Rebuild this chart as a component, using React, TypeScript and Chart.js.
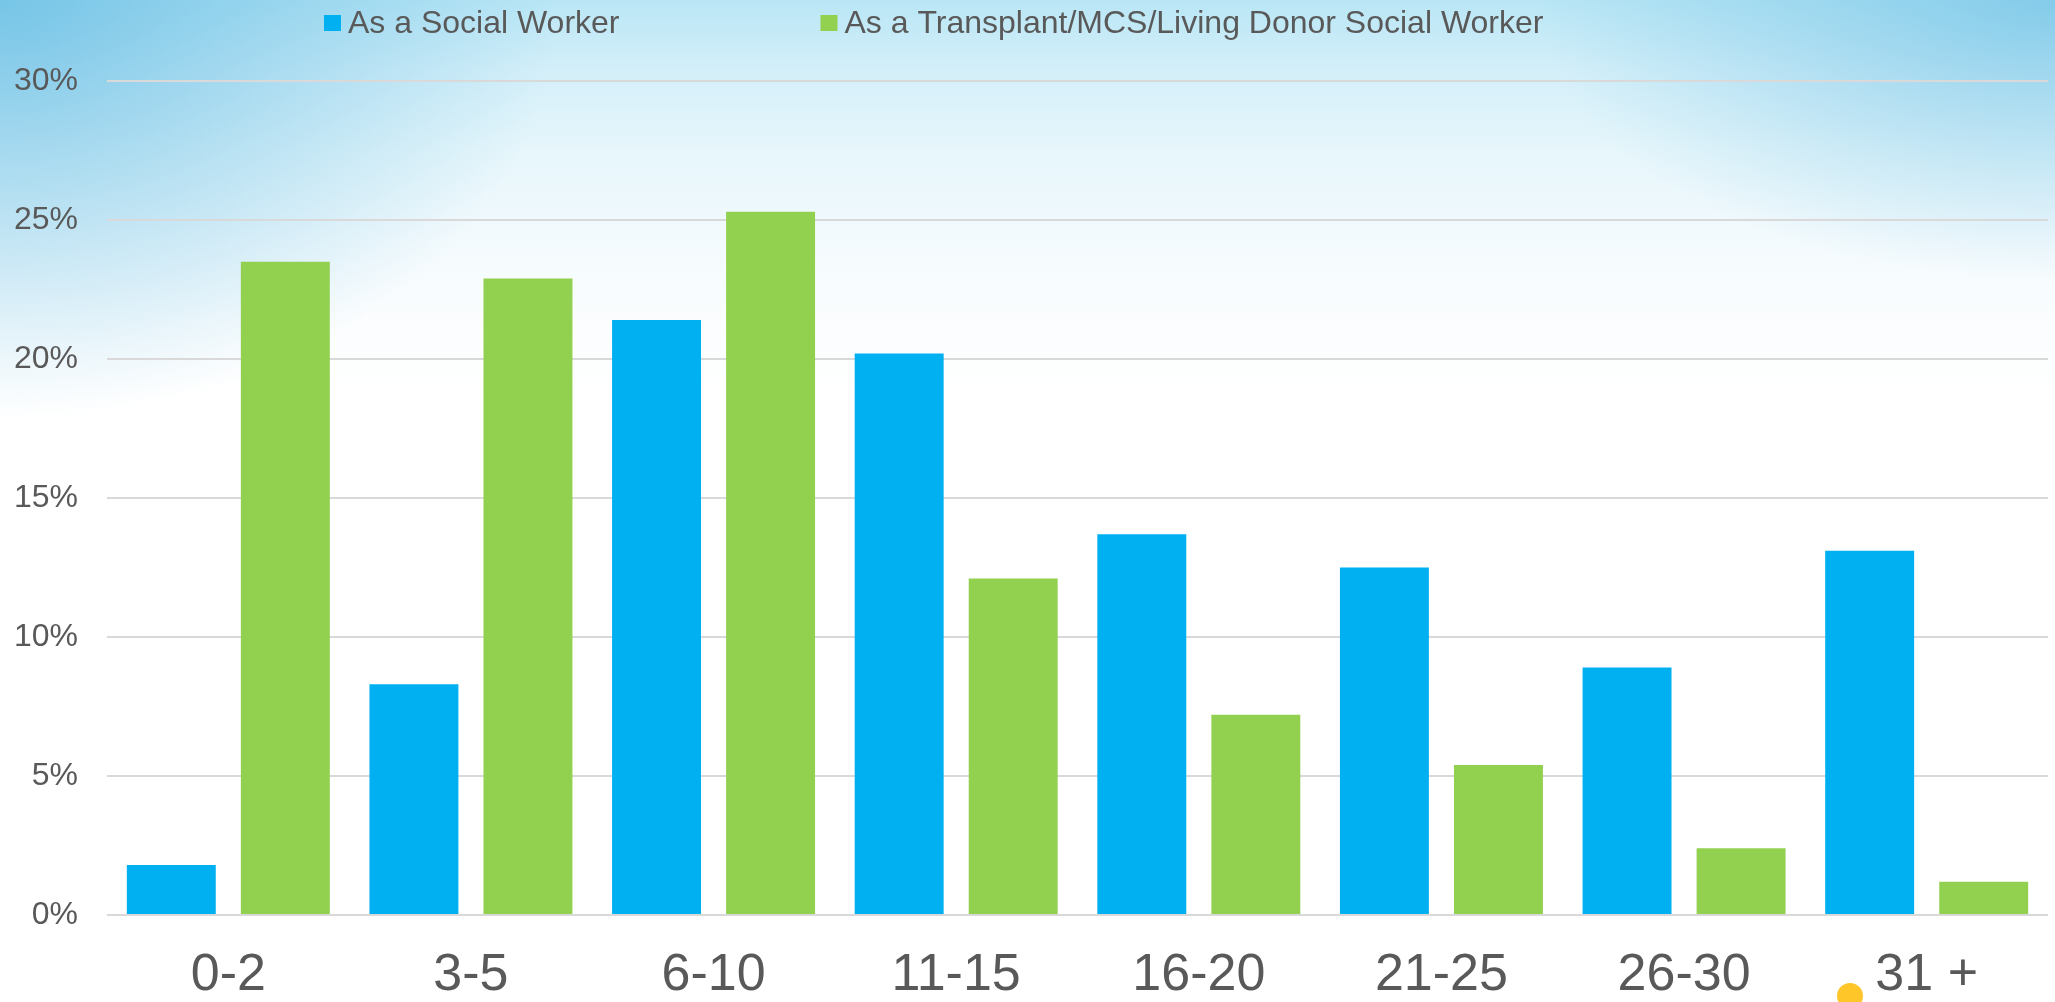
import React, { useEffect, useRef } from 'react';
import { Chart, registerables } from 'chart.js';

Chart.register(...registerables);

// ---- Data ----
const categories = ['0-2', '3-5', '6-10', '11-15', '16-20', '21-25', '26-30', '31 +'];
const socialWorker = [1.8, 8.3, 21.4, 20.2, 13.7, 12.5, 8.9, 13.1];
const transplantSocialWorker = [23.5, 22.9, 25.3, 12.1, 7.2, 5.4, 2.4, 1.2];
const seriesLabels = ['As a Social Worker', 'As a Transplant/MCS/Living Donor Social Worker'];
const seriesColors = ['#00B0F0', '#92D050'];
const yMin = 0;
const yMax = 30;
const yStep = 5;

const FONT = '"Liberation Sans", Arial, Helvetica, sans-serif';
const TEXT_COLOR = '#595959';

const legendPlugin = {
  id: 'customLegend',
  afterDraw(chart: any) {
    const ctx = chart.ctx as CanvasRenderingContext2D;
    ctx.save();
    ctx.font = `32px ${FONT}`;
    ctx.textBaseline = 'alphabetic';
    ctx.textAlign = 'left';
    const box = 17;
    const boxTop = 15;
    const baseline = 33;
    const textGap = 7;
    const itemGap = 201;
    let x = 324;
    chart.data.datasets.forEach((ds: any) => {
      ctx.fillStyle = ds.backgroundColor;
      ctx.fillRect(x, boxTop, box, box - 1);
      ctx.fillStyle = TEXT_COLOR;
      ctx.fillText(ds.label, x + box + textGap, baseline);
      x += box + textGap + ctx.measureText(ds.label).width + itemGap;
    });
    ctx.restore();
  },
};

export default function App() {
  const canvasRef = useRef<HTMLCanvasElement | null>(null);

  useEffect(() => {
    if (!canvasRef.current) return;
    const chart = new Chart(canvasRef.current, {
      type: 'bar',
      data: {
        labels: categories,
        datasets: [
          {
            label: seriesLabels[0],
            data: socialWorker,
            backgroundColor: seriesColors[0],
            borderWidth: 0,
          },
          {
            label: seriesLabels[1],
            data: transplantSocialWorker,
            backgroundColor: seriesColors[1],
            borderWidth: 0,
          },
        ],
      },
      options: {
        animation: false,
        responsive: true,
        maintainAspectRatio: false,
        datasets: {
          bar: {
            categoryPercentage: 0.94,
            barPercentage: 0.78,
          },
        },
        layout: {
          padding: { left: 14, right: 7, top: 81, bottom: 0 },
        },
        plugins: {
          legend: { display: false },
          title: { display: false },
          tooltip: { enabled: false },
        },
        scales: {
          x: {
            grid: { display: false, drawTicks: false },
            border: { display: false },
            ticks: {
              color: TEXT_COLOR,
              font: { family: FONT, size: 52, lineHeight: 1 },
              padding: 35,
              maxRotation: 0,
              autoSkip: false,
            },
            afterFit: (scale: any) => {
              scale.height = 87;
            },
          },
          y: {
            min: yMin,
            max: yMax,
            grid: { color: '#d9d9d9', lineWidth: 2, drawTicks: false },
            border: { display: false },
            ticks: {
              stepSize: yStep,
              color: TEXT_COLOR,
              font: { family: FONT, size: 32 },
              padding: 29,
              callback: (v: any) => `${v}%`,
            },
            afterFit: (scale: any) => {
              scale.width = 93;
            },
          },
        },
      },
      plugins: [legendPlugin],
    });
    return () => chart.destroy();
  }, []);

  return (
    <div
      style={{
        position: 'fixed',
        left: 0,
        top: 0,
        width: '2055px',
        height: '1002px',
        overflow: 'hidden',
        background:
          'radial-gradient(ellipse 560px 420px at 0% 0%, rgba(96,186,226,0.75), rgba(96,186,226,0) 100%),' +
          'radial-gradient(ellipse 520px 280px at 100% 0%, rgba(96,186,226,0.6), rgba(96,186,226,0) 100%),' +
          'linear-gradient(180deg, #b9e6f5 0%, #d4eff9 7%, #e6f6fb 15%, #f3fafd 24%, #fbfdfe 32%, #ffffff 40%)',
      }}
    >
      <canvas ref={canvasRef} style={{ position: 'absolute', left: 0, top: 0, width: '100%', height: '100%' }} />
      <div
        style={{
          position: 'absolute',
          left: '1837px',
          top: '983px',
          width: '26px',
          height: '26px',
          borderRadius: '50%',
          background: '#FFC629',
        }}
      />
    </div>
  );
}
